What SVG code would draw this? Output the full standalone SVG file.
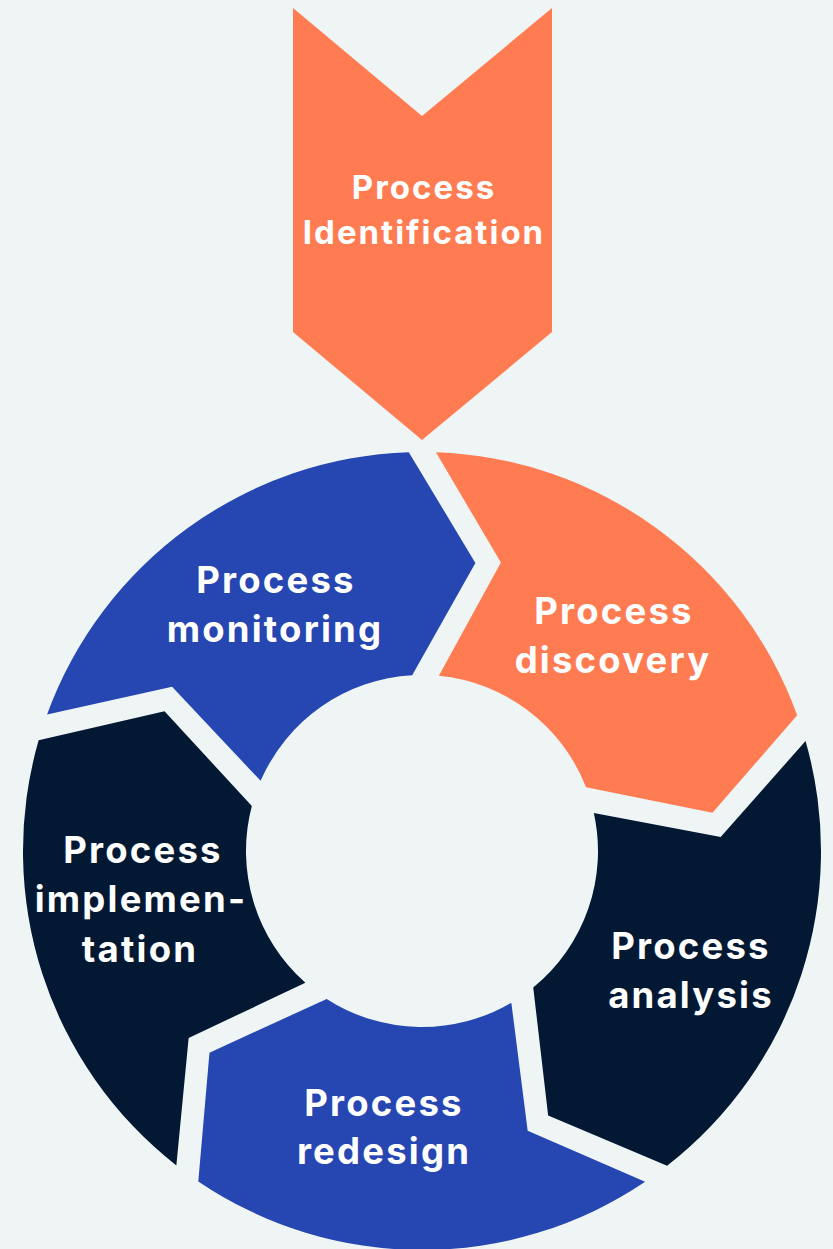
<svg xmlns="http://www.w3.org/2000/svg" width="833" height="1249" viewBox="0 0 833 1249">
<style>
.lbl{font-family:Inter,"Open Sans","Liberation Sans",sans-serif;font-weight:700;font-size:36.5px;fill:#FFFFFF;text-anchor:middle;letter-spacing:2.2px}
.top{font-size:33px;letter-spacing:2px}
.orange{fill:#FF7B52}
.blue{fill:#2646B1}
.dark{fill:#021833}
</style>
<defs>
<path id="seg" d="M435.93,452.24 A399,399 0 0 1 797.18,715.19 L712.49,812.75 L586.09,787.35 A176,176 0 0 0 438.87,675.81 L500.90,562.60 Z"/>
</defs>
<rect width="833" height="1249" fill="#EFF5F5"/>
<g id="identification">
<polygon class="orange" points="293,8 422,116 552,8 552,332 422,440 293,332"/>
<text class="lbl top" x="424" y="199">Process</text>
<text class="lbl top" x="424" y="244">Identification</text>
</g>
<g id="discovery">
<use href="#seg" class="orange"/>
<text class="lbl" x="614" y="624">Process</text>
<text class="lbl" x="613" y="673">discovery</text>
</g>
<g id="analysis">
<use href="#seg" class="dark" transform="rotate(72 422 851)"/>
<text class="lbl" x="691" y="959">Process</text>
<text class="lbl" x="691" y="1008">analysis</text>
</g>
<g id="redesign">
<use href="#seg" class="blue" transform="rotate(144 422 851)"/>
<text class="lbl" x="384" y="1116">Process</text>
<text class="lbl" x="384" y="1164">redesign</text>
</g>
<g id="implementation">
<use href="#seg" class="dark" transform="rotate(216 422 851)"/>
<text class="lbl" x="143" y="863">Process</text>
<text class="lbl" x="141" y="912">implemen-</text>
<text class="lbl" x="140" y="962">tation</text>
</g>
<g id="monitoring">
<use href="#seg" class="blue" transform="rotate(288 422 851)"/>
<text class="lbl" x="276" y="593">Process</text>
<text class="lbl" x="275" y="642">monitoring</text>
</g>
<g id="connectors"></g>
</svg>
